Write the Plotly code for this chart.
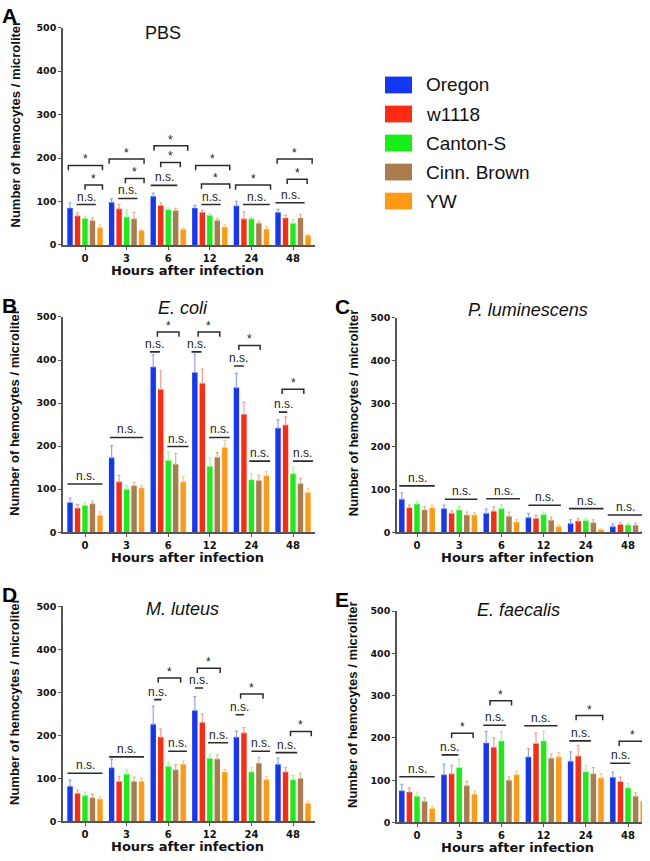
import plotly.graph_objects as go

W, H = 650, 861
CONFIG = {"displayModeBar": False}

HOURS = ["0", "3", "6", "12", "24", "48"]
STRAINS = ["Oregon", "w1118", "Canton-S", "Cinn. Brown", "YW"]
COLORS = ["#1437F5", "#FF2A12", "#16EE16", "#A97B4D", "#FF9A12"]
ERR_COLORS = ["#8EA4FF", "#FF9A90", "#98FF98", "#D9B58F", "#FFCB78"]
INK = "#2B2B2B"
AXIS = "#555555"

# mean hemocyte counts per strain (Oregon, w1118, Canton-S, Cinn. Brown, YW)
PBS_MEAN = [
    [85, 98, 112, 85, 90, 75],
    [67, 83, 91, 75, 60, 62],
    [61, 64, 81, 68, 60, 50],
    [56, 60, 79, 56, 50, 62],
    [40, 33, 36, 41, 36, 22],
]
PBS_ERR = [
    [12, 8, 7, 6, 10, 7],
    [7, 10, 6, 5, 16, 6],
    [5, 16, 4, 4, 3, 8],
    [6, 15, 5, 4, 5, 8],
    [6, 3, 3, 5, 7, 2],
]
ECOLI_MEAN = [
    [69, 173, 384, 371, 336, 242],
    [56, 117, 332, 346, 274, 249],
    [62, 100, 167, 153, 122, 136],
    [66, 108, 158, 174, 120, 113],
    [39, 103, 117, 197, 131, 92],
]
ECOLI_ERR = [
    [10, 28, 28, 43, 33, 19],
    [8, 15, 43, 33, 28, 19],
    [8, 8, 19, 20, 15, 16],
    [6, 8, 25, 11, 12, 12],
    [9, 6, 12, 16, 10, 10],
]
PLUM_MEAN = [
    [77, 55, 44, 34, 20, 13],
    [57, 44, 49, 32, 26, 18],
    [66, 52, 55, 41, 27, 17],
    [52, 40, 37, 28, 22, 16],
    [57, 40, 24, 13, 6, 3],
]
PLUM_ERR = [
    [15, 8, 10, 10, 9, 6],
    [6, 6, 10, 8, 6, 4],
    [6, 8, 9, 6, 5, 4],
    [8, 7, 10, 8, 7, 5],
    [6, 6, 6, 4, 2, 1],
]
MLUT_MEAN = [
    [82, 125, 226, 258, 196, 133],
    [65, 93, 196, 230, 206, 115],
    [60, 110, 128, 147, 115, 97],
    [55, 93, 120, 145, 135, 100],
    [52, 93, 133, 115, 97, 42],
]
MLUT_ERR = [
    [14, 20, 42, 32, 14, 14],
    [8, 12, 19, 20, 12, 10],
    [8, 10, 10, 8, 10, 10],
    [8, 10, 12, 10, 14, 12],
    [5, 8, 8, 6, 8, 5],
]
EFAE_MEAN = [
    [75, 113, 188, 155, 145, 107],
    [72, 115, 178, 187, 157, 97],
    [62, 130, 193, 193, 120, 82],
    [50, 87, 100, 152, 115, 62],
    [33, 67, 113, 155, 105, 50],
]
EFAE_ERR = [
    [15, 25, 27, 20, 22, 12],
    [10, 20, 22, 25, 25, 10],
    [10, 20, 22, 23, 15, 10],
    [8, 10, 8, 10, 15, 8],
    [6, 8, 8, 10, 10, 5],
]

# significance marks: (time index, left offset, right offset, height, label)
PBS_MARKS = [
    (0, -0.40, 0.42, 183, "*"), (0, 0.0, 0.42, 138, "*"), (0, -0.20, 0.26, 93, "n.s."),
    (1, -0.42, 0.42, 198, "*"), (1, -0.03, 0.42, 153, "*"), (1, -0.20, 0.26, 107, "n.s."),
    (2, -0.34, 0.47, 228, "*"), (2, -0.18, 0.29, 190, "*"), (2, -0.42, 0.22, 137, "n.s."),
    (3, -0.34, 0.48, 183, "*"), (3, -0.20, 0.48, 140, "*"), (3, -0.20, 0.26, 93, "n.s."),
    (4, -0.38, 0.46, 138, "*"), (4, -0.20, 0.44, 93, "n.s."),
    (5, -0.38, 0.46, 198, "*"), (5, -0.14, 0.34, 151, "*"), (5, -0.42, 0.28, 97, "n.s."),
]
ECOLI_MARKS = [
    (0, -0.42, 0.42, 112, "n.s."),
    (1, -0.40, 0.40, 220, "n.s."),
    (2, -0.44, -0.20, 419, "n.s."), (2, -0.26, 0.26, 465, "*"), (2, -0.02, 0.49, 199, "n.s."),
    (3, -0.44, -0.20, 419, "n.s."), (3, -0.28, 0.24, 465, "*"), (3, -0.02, 0.48, 220, "n.s."),
    (4, -0.42, -0.18, 386, "n.s."), (4, -0.30, 0.21, 434, "*"), (4, -0.05, 0.45, 165, "n.s."),
    (5, -0.34, -0.14, 279, "n.s."), (5, -0.26, 0.26, 332, "*"), (5, 0.0, 0.48, 165, "n.s."),
]
PLUM_MARKS = [
    (0, -0.42, 0.42, 108, "n.s."), (1, -0.34, 0.43, 77, "n.s."), (2, -0.36, 0.44, 78, "n.s."),
    (3, -0.36, 0.41, 63, "n.s."), (4, -0.40, 0.42, 55, "n.s."), (5, -0.48, 0.34, 40, "n.s."),
]
MLUT_MARKS = [
    (0, -0.42, 0.42, 112, "n.s."),
    (1, -0.42, 0.42, 150, "n.s."),
    (2, -0.34, -0.16, 283, "n.s."), (2, -0.24, 0.30, 333, "*"), (2, 0.0, 0.45, 163, "n.s."),
    (3, -0.36, -0.16, 310, "n.s."), (3, -0.30, 0.25, 356, "*"), (3, -0.04, 0.44, 183, "n.s."),
    (4, -0.38, -0.18, 248, "n.s."), (4, -0.26, 0.28, 296, "*"), (4, 0.0, 0.45, 163, "n.s."),
    (5, -0.42, 0.10, 160, "n.s."), (5, -0.06, 0.44, 209, "*"),
]
EFAE_MARKS = [
    (0, -0.42, 0.42, 108, "n.s."),
    (1, -0.42, -0.02, 160, "n.s."), (1, -0.18, 0.33, 211, "*"),
    (2, -0.43, 0.11, 230, "n.s."), (2, -0.27, 0.24, 288, "*"),
    (3, -0.46, 0.33, 229, "n.s."),
    (4, -0.39, 0.12, 193, "n.s."), (4, -0.23, 0.40, 253, "*"),
    (5, -0.42, 0.05, 140, "n.s."), (5, -0.21, 0.44, 192, "*"),
]

TICK_FONT = "DejaVu Sans"
TEXT_FONT = "Liberation Sans, Arial, sans-serif"

# (letter, title, means, errors, marks, x px span, y px span of 0..500, group0 px, spacing px, title xy)
PANELS = [
    ("A", "PBS", PBS_MEAN, PBS_ERR, PBS_MARKS, (63, 315), (22, 242), 85, 41.6, (163, 27)),
    ("B", "<i>E. coli</i>", ECOLI_MEAN, ECOLI_ERR, ECOLI_MARKS, (63, 315), (315, 533), 85, 41.6, (183, 306)),
    ("C", "<i>P. luminescens</i>", PLUM_MEAN, PLUM_ERR, PLUM_MARKS, (397, 642), (316, 533), 417, 42.2, (528, 308)),
    ("D", "<i>M. luteus</i>", MLUT_MEAN, MLUT_ERR, MLUT_MARKS, (63, 315), (608, 826), 85, 41.6, (182, 611)),
    ("E", "<i>E. faecalis</i>", EFAE_MEAN, EFAE_ERR, EFAE_MARKS, (397, 642), (613, 827), 417, 42.2, (518, 612)),
]


def px(x):
    return x / W


def py(y):
    return 1 - y / H


def text_at(fig, x, y, text, font, **kw):
    fig.add_annotation(x=px(x), y=py(y), xref="paper", yref="paper", text=text,
                       showarrow=False, xanchor=kw.pop("xanchor", "center"),
                       yanchor="middle", font=font, **kw)


fig = go.Figure()
x_idx = list(range(len(HOURS)))

for n, (letter, title, means, errs, marks, xs, ys, g0, sp, tpos) in enumerate(PANELS, start=1):
    sfx = "" if n == 1 else str(n)
    xr, yr = "x" + sfx, "y" + sfx
    for s, name in enumerate(STRAINS):
        fig.add_trace(go.Bar(
            x=x_idx, y=means[s], name=name, xaxis=xr, yaxis=yr,
            marker=dict(color=COLORS[s], line=dict(width=0)),
            error_y=dict(type="data", array=errs[s], arrayminus=[0] * len(HOURS),
                         symmetric=False, color=ERR_COLORS[s], thickness=1.2, width=1.5),
            showlegend=False,
        ))
    left = -(g0 - xs[0]) / sp
    right = (xs[1] - g0) / sp
    axis_style = dict(showline=True, linecolor=AXIS, linewidth=1.5, ticks="outside",
                      ticklen=3, tickcolor=AXIS, showgrid=False, zeroline=False)
    fig.update_layout({
        "xaxis" + sfx: dict(domain=[px(xs[0]), px(xs[1])], range=[left, right],
                            anchor=yr, tickvals=x_idx, ticktext=HOURS,
                            tickfont=dict(family=TICK_FONT, size=10, color="#111", weight="bold"),
                            **axis_style),
        "yaxis" + sfx: dict(domain=[py(ys[1]), py(ys[0])], range=[0, 500],
                            anchor=xr, tickvals=[0, 100, 200, 300, 400, 500],
                            tickfont=dict(family=TICK_FONT, size=9.5, color="#111", weight="bold"),
                            **axis_style),
    })
    for g, a, b, y, label in marks:
        x0, x1 = g + a, g + b
        if label == "*":
            fig.add_shape(type="path", xref=xr, yref=yr,
                          path=f"M {x0},{y - 11} L {x0},{y} L {x1},{y} L {x1},{y - 11}",
                          line=dict(color=INK, width=1.5))
        else:
            fig.add_shape(type="line", xref=xr, yref=yr, x0=x0, x1=x1, y0=y, y1=y,
                          line=dict(color=INK, width=1.6))
        fig.add_annotation(x=(x0 + x1) / 2, y=y, xref=xr, yref=yr, text=label,
                           showarrow=False, xanchor="center", yanchor="bottom",
                           yshift=-2 if label == "*" else 0, borderpad=0,
                           font=dict(family=TEXT_FONT, size=12, color="#222"))
    # panel letter, title, axis titles
    left_col = xs[0] < 100
    text_at(fig, 9 if left_col else 342, ys[0] - 12, f"<b>{letter}</b>",
            dict(family=TEXT_FONT, size=21, color="#000"))
    text_at(fig, tpos[0], tpos[1], title, dict(family=TEXT_FONT, size=18, color="#111"))
    text_at(fig, (xs[0] + xs[1]) / 2 - 2, ys[1] + 25.5, "<b>Hours after infection</b>",
            dict(family=TICK_FONT, size=13, color="#111"))
    text_at(fig, 15 if left_col else 353, (ys[0] + ys[1]) / 2 - 12,
            "<b>Number of hemocytes / microliter</b>",
            dict(family="Liberation Sans Narrow, " + TEXT_FONT, size=13, color="#111"),
            textangle=-90)

# legend drawn as coloured boxes next to the strain names
for s, name in enumerate(STRAINS):
    cy = 80 + s * 29.4
    fig.add_shape(type="rect", xref="paper", yref="paper",
                  x0=px(385), x1=px(412), y0=py(cy + 8.5), y1=py(cy - 8.5),
                  fillcolor=COLORS[s], line=dict(width=0))
    text_at(fig, 424, cy, name, dict(family=TEXT_FONT, size=19, color="#111"), xanchor="left")

fig.update_layout(
    width=W, height=H,
    margin=dict(l=0, r=0, t=0, b=0),
    barmode="group", bargap=0.1, bargroupgap=0.28,
    plot_bgcolor="white", paper_bgcolor="white",
    showlegend=False,
)

fig.write_html("out.html", config=CONFIG, post_script="document.body.style.margin='0';")
